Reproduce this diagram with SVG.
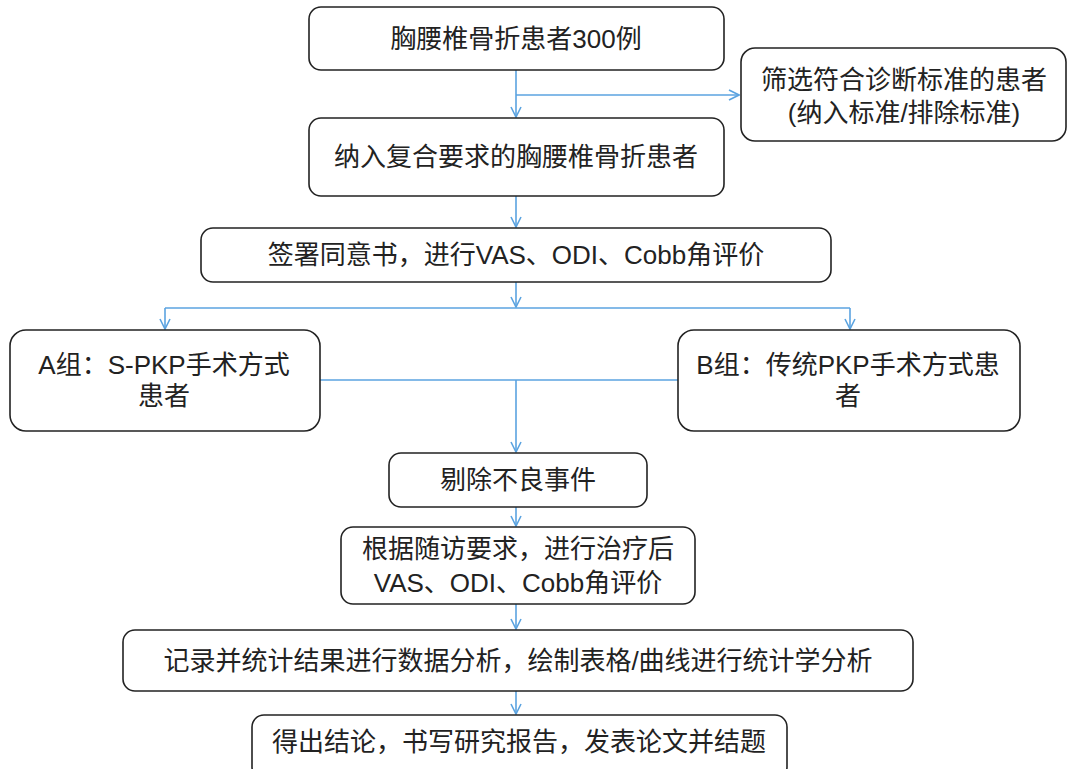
<svg xmlns="http://www.w3.org/2000/svg" width="1073" height="769" viewBox="0 0 1073 769">
<defs>
<style>
.box{fill:#fff;stroke:#222;stroke-width:1.6}
.t{font-family:"Liberation Sans","Noto Sans CJK SC",sans-serif;font-size:26px;fill:#222;text-anchor:middle;dominant-baseline:central}
.c{fill:none;stroke:#5ba3e0;stroke-width:1.6}
</style>
<marker id="ah" viewBox="0 0 12 12" refX="11" refY="6" markerWidth="12" markerHeight="12" markerUnits="userSpaceOnUse" orient="auto">
<path d="M1,1 L11,6 L1,11" fill="none" stroke="#5ba3e0" stroke-width="1.6"/>
</marker>
</defs>
<rect width="1073" height="769" fill="#fff"/>
<g id="connectors">
<path class="c" d="M516,70 V117" marker-end="url(#ah)"/>
<path class="c" d="M516,95 H739" marker-end="url(#ah)"/>
<path class="c" d="M516,196 V227" marker-end="url(#ah)"/>
<path class="c" d="M516,282 V307" marker-end="url(#ah)"/>
<path class="c" d="M165,308 H850"/>
<path class="c" d="M165,308 V329" marker-end="url(#ah)"/>
<path class="c" d="M850,308 V329" marker-end="url(#ah)"/>
<path class="c" d="M320,380 H678"/>
<path class="c" d="M516,380 V452" marker-end="url(#ah)"/>
<path class="c" d="M516,507 V526" marker-end="url(#ah)"/>
<path class="c" d="M516,604 V629" marker-end="url(#ah)"/>
<path class="c" d="M516,691 V714" marker-end="url(#ah)"/>
</g>
<g id="n1"><rect class="box" x="309" y="7" width="415" height="63" rx="12"/><text class="t" x="516" y="39">胸腰椎骨折患者300例</text></g>
<g id="n2"><rect class="box" x="741" y="48" width="325" height="93" rx="14"/><text class="t" x="904" y="80">筛选符合诊断标准的患者</text><text class="t" x="904" y="113">(纳入标准/排除标准)</text></g>
<g id="n3"><rect class="box" x="309" y="118" width="415" height="78" rx="12"/><text class="t" x="516" y="157">纳入复合要求的胸腰椎骨折患者</text></g>
<g id="n4"><rect class="box" x="201" y="228" width="630" height="54" rx="12"/><text class="t" x="516" y="255">签署同意书，进行VAS、ODI、Cobb角评价</text></g>
<g id="n5"><rect class="box" x="10" y="330" width="310" height="101" rx="16"/><text class="t" x="164" y="365">A组：S-PKP手术方式</text><text class="t" x="164" y="396">患者</text></g>
<g id="n6"><rect class="box" x="678" y="330" width="342" height="101" rx="16"/><text class="t" x="848" y="365">B组：传统PKP手术方式患</text><text class="t" x="848" y="396">者</text></g>
<g id="n7"><rect class="box" x="389" y="453" width="258" height="54" rx="12"/><text class="t" x="518" y="480">剔除不良事件</text></g>
<g id="n8"><rect class="box" x="341" y="527" width="354" height="77" rx="12"/><text class="t" x="518" y="549">根据随访要求，进行治疗后</text><text class="t" x="518" y="583">VAS、ODI、Cobb角评价</text></g>
<g id="n9"><rect class="box" x="123" y="630" width="790" height="61" rx="12"/><text class="t" x="518" y="661">记录并统计结果进行数据分析，绘制表格/曲线进行统计学分析</text></g>
<g id="n10"><rect class="box" x="252" y="715" width="535" height="64" rx="12"/><text class="t" x="519" y="742">得出结论，书写研究报告，发表论文并结题</text></g>
</svg>
